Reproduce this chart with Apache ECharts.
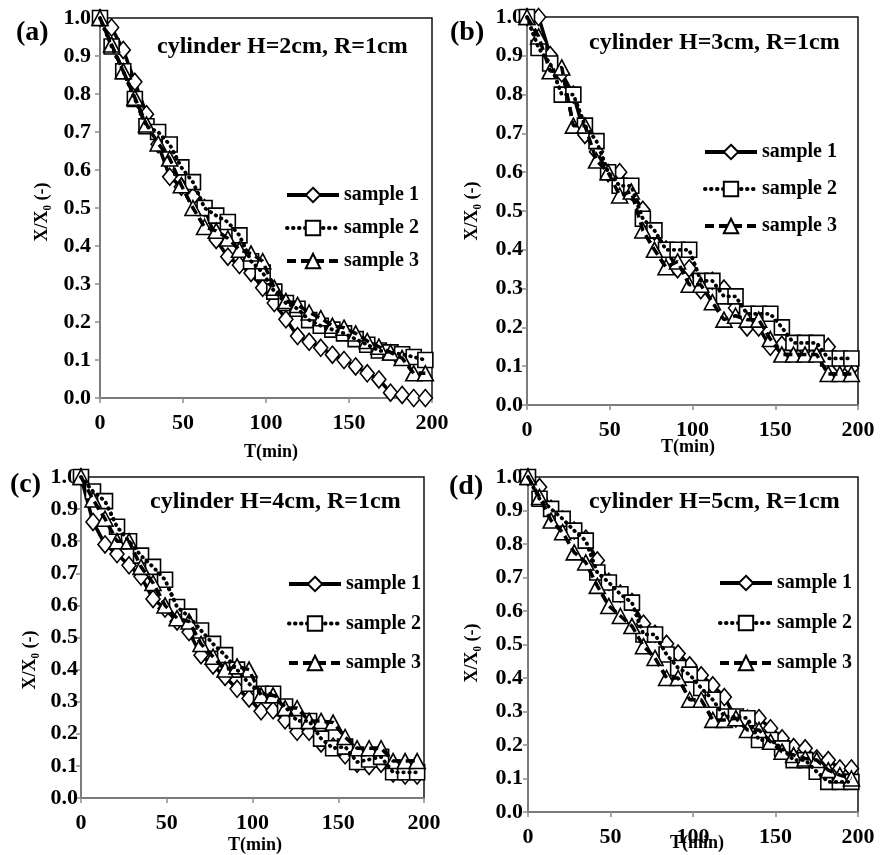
<!DOCTYPE html>
<html><head><meta charset="utf-8">
<script src="https://cdn.jsdelivr.net/npm/echarts@6/dist/echarts.min.js"></script>
<style>html,body{margin:0;padding:0;background:#fff}#c{width:883px;height:855px}</style>
</head><body><div id="c"></div>
<script>
// ---- data ----
const times = [0,7,14,21,28,35,42,49,56,63,70,77,84,91,98,105,112,119,126,133,140,147,154,161,168,175,182,189,196];
const xTicks = [0,50,100,150,200];
const seriesNames = ['sample 1','sample 2','sample 3'];
const panelTitles = ['cylinder H=2cm, R=1cm','cylinder H=3cm, R=1cm','cylinder H=4cm, R=1cm','cylinder H=5cm, R=1cm'];
const panelLabels = ['(a)','(b)','(c)','(d)'];

const a1 = [1.0,0.975,0.916,0.832,0.747,0.668,0.582,0.556,0.53,0.50,0.416,0.372,0.35,0.329,0.29,0.25,0.207,0.163,0.148,0.132,0.114,0.10,0.083,0.065,0.049,0.014,0.008,0.0,0.0];
const a2 = [1.0,0.925,0.86,0.787,0.715,0.70,0.667,0.607,0.568,0.50,0.48,0.463,0.428,0.36,0.33,0.28,0.25,0.235,0.205,0.19,0.18,0.17,0.155,0.14,0.125,0.12,0.115,0.108,0.10];
const a3 = [1.0,0.93,0.86,0.79,0.72,0.67,0.63,0.56,0.50,0.45,0.44,0.42,0.39,0.38,0.36,0.29,0.255,0.245,0.225,0.21,0.19,0.185,0.17,0.15,0.135,0.12,0.105,0.065,0.065];

const b1 = [1.0,1.0,0.902,0.855,0.80,0.696,0.653,0.597,0.60,0.55,0.503,0.447,0.401,0.35,0.352,0.296,0.32,0.30,0.25,0.20,0.20,0.15,0.155,0.15,0.145,0.15,0.15,0.10,0.095];
const b2 = [1.0,0.92,0.88,0.80,0.80,0.72,0.68,0.60,0.565,0.565,0.48,0.45,0.40,0.40,0.40,0.32,0.32,0.28,0.28,0.235,0.235,0.235,0.20,0.16,0.16,0.16,0.12,0.12,0.12];
const b3 = [1.0,0.95,0.86,0.87,0.72,0.72,0.63,0.60,0.54,0.55,0.45,0.40,0.355,0.37,0.31,0.31,0.265,0.22,0.23,0.22,0.22,0.17,0.13,0.13,0.13,0.13,0.08,0.08,0.08];

const c1 = [1.0,0.86,0.79,0.76,0.725,0.69,0.62,0.59,0.55,0.517,0.445,0.413,0.377,0.34,0.31,0.27,0.273,0.242,0.206,0.206,0.17,0.16,0.133,0.107,0.10,0.107,0.076,0.07,0.07];
const c2 = [1.0,0.955,0.925,0.845,0.80,0.755,0.72,0.68,0.595,0.565,0.522,0.48,0.445,0.40,0.356,0.325,0.325,0.285,0.24,0.24,0.185,0.155,0.16,0.112,0.12,0.128,0.08,0.08,0.08];
const c3 = [1.0,0.93,0.87,0.80,0.80,0.72,0.67,0.60,0.56,0.55,0.48,0.44,0.40,0.41,0.40,0.32,0.32,0.28,0.28,0.24,0.24,0.235,0.19,0.155,0.155,0.155,0.115,0.115,0.115];

const d1 = [1.0,0.97,0.905,0.873,0.84,0.816,0.751,0.687,0.652,0.627,0.562,0.532,0.502,0.473,0.438,0.408,0.378,0.343,0.279,0.279,0.28,0.25,0.22,0.194,0.19,0.16,0.155,0.13,0.13];
const d2 = [1.0,0.935,0.905,0.875,0.84,0.81,0.715,0.685,0.65,0.625,0.53,0.53,0.47,0.43,0.41,0.37,0.335,0.285,0.285,0.28,0.215,0.215,0.19,0.155,0.155,0.12,0.09,0.09,0.09];
const d3 = [1.0,0.94,0.87,0.835,0.775,0.745,0.675,0.615,0.585,0.555,0.495,0.46,0.40,0.40,0.335,0.335,0.275,0.275,0.28,0.245,0.245,0.21,0.18,0.17,0.16,0.155,0.125,0.11,0.10];

const panelData = [[a1,a2,a3],[b1,b2,b3],[c1,c2,c3],[d1,d2,d3]];

// ---- layout / style ----
const FONT = '"Liberation Serif","Times New Roman",serif';
const grids = [
  {left:100, top:18, width:332, height:380},
  {left:527, top:17, width:331, height:388},
  {left:81,  top:477, width:343, height:321},
  {left:528, top:477, width:330, height:335}
];
const yLabelMargin = [9,4,3,5];
const legendPos = [
  {left:285, top:184, itemGap:11},
  {left:703, top:141, itemGap:15},
  {left:287, top:573, itemGap:17.5},
  {left:718, top:572, itemGap:18}
];
const titlePos = [[157,47],[589,43],[150,502],[589,502]];
const labelPos = [[16,33],[450,33],[10,485],[449,487]];
const yNamePos = [[42,212],[472,211],[30,660],[472,653]];
const xNamePos = [[271,452],[688,447],[255,845],[697,843]];

const styles = [
  {symbol:'diamond', symbolSize:[14,17], line:{color:'#000', width:3.5, type:'solid'}, overlay:false},
  {symbol:'rect', symbolSize:[15,15], line:{color:'#000', width:3.8, type:[0.5,5.5], cap:'round'}, overlay:true},
  {symbol:'triangle', symbolSize:[16,15], line:{color:'#000', width:3.5, type:[9,5]}, overlay:true}
];

const option = {
  backgroundColor:'#fff',
  animation:false,
  grid: grids.map(g => Object.assign({show:true, borderColor:'#111', borderWidth:1.5, backgroundColor:'transparent'}, g)),
  xAxis: grids.map((g,i) => ({
    type:'value', gridIndex:i, min:xTicks[0], max:xTicks[xTicks.length-1], interval:xTicks[1]-xTicks[0],
    splitLine:{show:false},
    axisLine:{show:true, onZero:false, lineStyle:{color:'#8c8c8c', width:1.5}},
    axisTick:{show:true, inside:false, length:5, lineStyle:{color:'#8c8c8c', width:1.5}},
    axisLabel:{color:'#000', fontFamily:FONT, fontWeight:'bold', fontSize:22, margin:14}
  })),
  yAxis: grids.map((g,i) => ({
    type:'value', gridIndex:i, min:0, max:1, interval:0.1,
    splitLine:{show:false},
    axisLine:{show:true, onZero:false, lineStyle:{color:'#8c8c8c', width:1.5}},
    axisTick:{show:true, inside:false, length:5, lineStyle:{color:'#8c8c8c', width:1.5}},
    axisLabel:{color:'#000', fontFamily:FONT, fontWeight:'bold', fontSize:22, margin:yLabelMargin[i],
      formatter: v => v.toFixed(1)}
  })),
  legend: legendPos.map(p => ({
    orient:'vertical', left:p.left, top:p.top, itemGap:p.itemGap, padding:0,
    itemWidth:52, itemHeight:18, selectedMode:false,
    data:seriesNames,
    lineStyle:{width:4},
    textStyle:{color:'#000', fontFamily:FONT, fontWeight:'bold', fontSize:20, lineHeight:22}
  })),
  series: [],
  graphic: []
};

panelData.forEach((sets, pi) => {
  sets.forEach((vals, si) => {
    const st = styles[si];
    const data = times.map((t, k) => [t, vals[k]]);
    option.series.push({
      type:'line', name:seriesNames[si], xAxisIndex:pi, yAxisIndex:pi, data:data,
      symbol:st.symbol, symbolSize:st.symbolSize, showAllSymbol:true, clip:false, z:2,
      lineStyle:Object.assign({}, st.line),
      itemStyle:{color:'#fff', borderColor:'#000', borderWidth:1.6},
      emphasis:{disabled:true}
    });
    if (st.overlay) {
      option.series.push({
        type:'line', name:'_ov'+pi+si, xAxisIndex:pi, yAxisIndex:pi, data:data,
        showSymbol:false, symbol:'none', clip:false, z:3, silent:true,
        lineStyle:Object.assign({}, st.line),
        emphasis:{disabled:true}
      });
    }
  });
  option.graphic.push({type:'text', x:titlePos[pi][0], y:titlePos[pi][1],
    style:{text:panelTitles[pi], font:'bold 24px '+FONT, fill:'#000', align:'left', verticalAlign:'middle'}});
  option.graphic.push({type:'text', x:labelPos[pi][0], y:labelPos[pi][1],
    style:{text:panelLabels[pi], font:'bold 28px '+FONT, fill:'#000', align:'left', verticalAlign:'middle'}});
  option.graphic.push({type:'text', x:yNamePos[pi][0], y:yNamePos[pi][1], rotation:Math.PI/2,
    style:{text:'X/X\u2080 (-)', font:'bold 18px '+FONT, fill:'#000', align:'center', verticalAlign:'middle'}});
  option.graphic.push({type:'text', x:xNamePos[pi][0], y:xNamePos[pi][1],
    style:{text:'T(min)', font:'bold 18px '+FONT, fill:'#000', align:'center', verticalAlign:'middle'}});
});

const chart = echarts.init(document.getElementById('c'), null, {renderer:'canvas'});
chart.setOption(option);
</script>
</body></html>
